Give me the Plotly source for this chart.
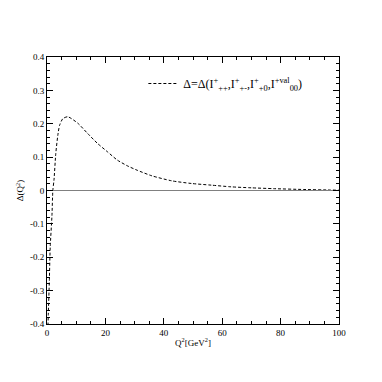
import plotly.graph_objects as go

# -- Datos --------------------------------------------------------------------
q2 = [0.2, 0.45, 0.8, 1.1, 1.7, 2.0, 2.4, 3.0, 3.7, 4.3, 5.4, 7.1, 10.5, 13.9,
      17.3, 20.7, 24.1, 27.5, 30.8, 35.9, 42.7, 49.5, 56.3, 63.0, 70.0, 77.6,
      88.0, 97.0, 100.0]
delta = [-0.45, -0.37, -0.27, -0.17, -0.075, 0.0, 0.032, 0.11, 0.165, 0.195,
         0.215, 0.221, 0.202, 0.171, 0.141, 0.116, 0.091, 0.074, 0.061, 0.044,
         0.029, 0.021, 0.016, 0.011, 0.008, 0.0055, 0.003, 0.0015, 0.001]

x_ticks = [0, 20, 40, 60, 80, 100]
y_ticks = [-0.4, -0.3, -0.2, -0.1, 0, 0.1, 0.2, 0.3, 0.4]
y_labels = ["-0.4", "-0.3", "-0.2", "-0.1", "0", "0.1", "0.2", "0.3", "0.4"]

FONT = "Liberation Serif"

fig = go.Figure()
fig.add_trace(go.Scatter(
    x=q2, y=delta, mode="lines",
    line=dict(color="black", width=1, dash="3px,2px", shape="spline", smoothing=0.6),
    name="\u0394=\u0394(I<sup>+</sup><sub>++</sub>,I<sup>+</sup><sub>+-</sub>,"
         "I<sup>+</sup><sub>+0</sub>,I<sup>+val</sup><sub>00</sub>)",
))
fig.add_trace(go.Scatter(
    x=[0, 100], y=[0, 0], mode="lines",
    line=dict(color="#808080", width=1), showlegend=False,
))

axis_common = dict(
    showline=True, linecolor="black", linewidth=1, mirror="allticks",
    ticks="inside", ticklen=6, tickcolor="black", tickwidth=1,
    showgrid=False, zeroline=False,
    tickfont=dict(family=FONT, size=9, color="black"),
)

fig.update_layout(
    width=382, height=382,
    margin=dict(l=36, r=51, t=49, b=66),
    paper_bgcolor="white", plot_bgcolor="white",
    font=dict(family=FONT, size=9, color="black"),
    showlegend=True,
    legend=dict(x=0.33, y=0.955, xanchor="left", yanchor="top",
                bgcolor="rgba(0,0,0,0)", font=dict(family=FONT, size=12, color="black"),
                itemwidth=30),
    xaxis=dict(
        range=[0, 100], tickmode="array", tickvals=x_ticks,
        minor=dict(dtick=5, ticks="inside", ticklen=3, tickcolor="black"),
        title=dict(text="Q<sup>2</sup>[GeV<sup>2</sup>]", standoff=2,
                   font=dict(family=FONT, size=9)),
        **axis_common,
    ),
    yaxis=dict(
        range=[-0.4, 0.4], tickmode="array", tickvals=y_ticks, ticktext=y_labels,
        minor=dict(dtick=0.02, ticks="inside", ticklen=3, tickcolor="black"),
        title=dict(text="\u0394(Q<sup>2</sup>)", standoff=4,
                   font=dict(family=FONT, size=9)),
        **axis_common,
    ),
)

fig.write_html("out.html")
